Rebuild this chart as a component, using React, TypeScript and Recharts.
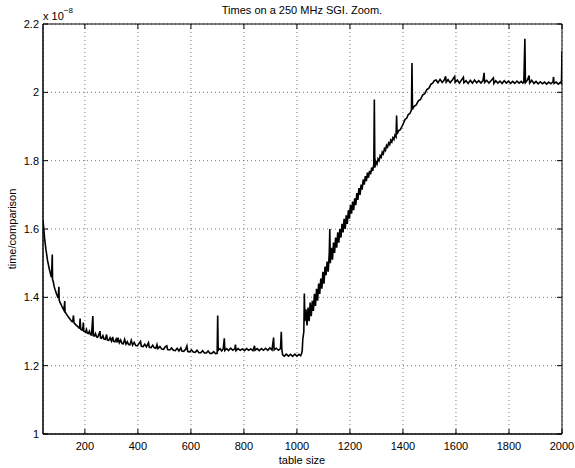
import React from "react";
import {
  LineChart,
  Line,
  XAxis,
  YAxis,
  CartesianGrid,
  ReferenceArea,
} from "recharts";

// table size vs. time per comparison (units of 1e-8 s)
const decay: [number, number][] = [
  [42, 1.625], [44, 1.61], [46, 1.59], [48, 1.572], [50, 1.56], [53, 1.54], [56, 1.525], [59, 1.508],
  [62, 1.497], [65, 1.485], [68, 1.476], [71, 1.466], [74, 1.459], [77, 1.525], [78, 1.452], [81, 1.445],
  [84, 1.432], [87, 1.424], [90, 1.417], [93, 1.41], [96, 1.404], [99, 1.398], [102, 1.431], [103, 1.392],
  [106, 1.386], [109, 1.381], [112, 1.376], [115, 1.371], [118, 1.366], [121, 1.362], [124, 1.389], [125, 1.357],
  [128, 1.354], [131, 1.35], [134, 1.347], [137, 1.343], [140, 1.34], [143, 1.337], [146, 1.334], [149, 1.331],
  [152, 1.329], [155, 1.336], [157, 1.347], [159, 1.325], [162, 1.323], [165, 1.32], [168, 1.318], [171, 1.316],
  [174, 1.314], [177, 1.311], [180, 1.31], [182, 1.338], [184, 1.307], [187, 1.305], [190, 1.304], [193, 1.315],
  [194, 1.326], [196, 1.301], [199, 1.3], [202, 1.298], [206, 1.306], [209, 1.295], [213, 1.294], [217, 1.301],
  [221, 1.291], [225, 1.29], [230, 1.345], [232, 1.288], [236, 1.287], [240, 1.294], [244, 1.284], [248, 1.283],
  [252, 1.29], [257, 1.301], [259, 1.281], [263, 1.28], [268, 1.288], [272, 1.278], [277, 1.277], [282, 1.291],
  [285, 1.275], [290, 1.274], [295, 1.282], [300, 1.272], [305, 1.284], [308, 1.271], [313, 1.27], [318, 1.278],
  [322, 1.268], [325, 1.282], [330, 1.267], [335, 1.275], [340, 1.265], [345, 1.264], [350, 1.277], [355, 1.263],
  [360, 1.27], [365, 1.262], [370, 1.261], [375, 1.274], [380, 1.26], [386, 1.268], [392, 1.259], [398, 1.258],
  [404, 1.265], [410, 1.271], [413, 1.257], [420, 1.256], [426, 1.263], [432, 1.255], [440, 1.267], [443, 1.254],
  [450, 1.253], [456, 1.26], [462, 1.252], [468, 1.251], [472, 1.262], [476, 1.25], [483, 1.256], [490, 1.249],
  [497, 1.248], [503, 1.255], [509, 1.258], [512, 1.247], [520, 1.246], [527, 1.252], [534, 1.245], [541, 1.244],
  [548, 1.251], [555, 1.243], [562, 1.252], [566, 1.243], [573, 1.242], [580, 1.248], [585, 1.258], [588, 1.241],
  [595, 1.24], [602, 1.246], [609, 1.24], [616, 1.239], [623, 1.245], [630, 1.238], [637, 1.238], [644, 1.244],
  [651, 1.237], [658, 1.237], [665, 1.243], [672, 1.236], [679, 1.236], [686, 1.241], [693, 1.235], [699, 1.236],
  [701, 1.347], [703, 1.245],
];

const plateau: [number, number][] = [
  [704, 1.246], [710, 1.25], [716, 1.243], [722, 1.249], [726, 1.28], [728, 1.244], [735, 1.25], [742, 1.244],
  [750, 1.251], [758, 1.245], [766, 1.25], [768, 1.262], [770, 1.244], [778, 1.25], [786, 1.245], [794, 1.249],
  [802, 1.244], [810, 1.25], [818, 1.245], [826, 1.249], [834, 1.244], [840, 1.258], [842, 1.245], [850, 1.25],
  [858, 1.244], [866, 1.25], [874, 1.245], [882, 1.251], [890, 1.245], [898, 1.252], [906, 1.246], [912, 1.282],
  [914, 1.246], [922, 1.251], [930, 1.245], [938, 1.25], [941, 1.299], [943, 1.248], [946, 1.232], [952, 1.228],
  [960, 1.234], [968, 1.228], [976, 1.233], [984, 1.227], [992, 1.234], [1000, 1.228], [1008, 1.233], [1014, 1.229],
  [1018, 1.236],
];

const ramp: [number, number][] = [
  [1020, 1.245], [1022, 1.276], [1026, 1.3], [1028, 1.411], [1030, 1.33], [1034, 1.365], [1038, 1.318], [1042, 1.37],
  [1046, 1.33], [1050, 1.385], [1054, 1.345], [1058, 1.39], [1062, 1.36], [1066, 1.41], [1070, 1.375], [1074, 1.425],
  [1078, 1.39], [1082, 1.44], [1086, 1.41], [1090, 1.455], [1094, 1.425], [1098, 1.475], [1102, 1.44], [1106, 1.49],
  [1110, 1.465], [1114, 1.505], [1118, 1.475], [1122, 1.53], [1124, 1.6], [1126, 1.5], [1130, 1.545], [1134, 1.51],
  [1138, 1.56], [1142, 1.53], [1146, 1.575], [1150, 1.545], [1154, 1.59], [1158, 1.56], [1162, 1.6], [1166, 1.575],
  [1170, 1.615], [1174, 1.59], [1178, 1.63], [1182, 1.6], [1186, 1.64], [1190, 1.615], [1194, 1.655], [1198, 1.63],
  [1202, 1.67], [1206, 1.645], [1210, 1.68], [1214, 1.655], [1218, 1.69], [1222, 1.67], [1226, 1.705], [1230, 1.685],
  [1234, 1.72], [1238, 1.7], [1242, 1.73], [1246, 1.715], [1250, 1.745], [1254, 1.73], [1258, 1.755], [1262, 1.74],
  [1266, 1.765], [1270, 1.75], [1274, 1.77], [1278, 1.76], [1282, 1.78], [1286, 1.77], [1290, 1.79], [1292, 1.979],
  [1294, 1.78], [1298, 1.797], [1302, 1.79], [1306, 1.805], [1310, 1.8], [1314, 1.815], [1318, 1.81], [1322, 1.825],
  [1326, 1.82], [1330, 1.835], [1334, 1.83], [1338, 1.845], [1342, 1.84], [1346, 1.852], [1350, 1.847], [1354, 1.86],
  [1358, 1.855], [1362, 1.867], [1366, 1.862], [1370, 1.875], [1374, 1.87], [1376, 1.932], [1378, 1.878], [1384, 1.888],
  [1390, 1.891], [1396, 1.9], [1402, 1.91], [1408, 1.921], [1414, 1.924], [1420, 1.935], [1426, 1.938], [1432, 1.948],
  [1434, 2.086], [1436, 1.95], [1442, 1.959], [1450, 1.963], [1458, 1.975], [1466, 1.979], [1474, 1.992], [1482, 1.996],
  [1490, 2.008], [1498, 2.012], [1506, 2.024], [1512, 2.027], [1518, 2.034],
];

const flat: [number, number][] = [
  [1525, 2.036], [1532, 2.028], [1540, 2.038], [1548, 2.029], [1555, 2.035], [1561, 2.047], [1563, 2.03], [1570, 2.037],
  [1578, 2.028], [1586, 2.036], [1595, 2.046], [1597, 2.029], [1605, 2.036], [1613, 2.027], [1620, 2.035], [1628, 2.044],
  [1630, 2.028], [1638, 2.034], [1646, 2.026], [1654, 2.035], [1662, 2.027], [1670, 2.036], [1678, 2.028], [1686, 2.034],
  [1694, 2.027], [1702, 2.035], [1706, 2.057], [1708, 2.029], [1716, 2.035], [1724, 2.027], [1732, 2.034], [1741, 2.042],
  [1743, 2.026], [1750, 2.034], [1758, 2.027], [1766, 2.033], [1774, 2.026], [1782, 2.034], [1790, 2.027], [1798, 2.033],
  [1806, 2.026], [1814, 2.032], [1822, 2.026], [1830, 2.033], [1838, 2.027], [1846, 2.032], [1852, 2.027], [1856, 2.03],
  [1860, 2.157], [1862, 2.028], [1868, 2.034], [1876, 2.049], [1878, 2.027], [1886, 2.035], [1894, 2.026], [1902, 2.032],
  [1910, 2.025], [1918, 2.031], [1926, 2.025], [1934, 2.03], [1942, 2.024], [1950, 2.03], [1958, 2.025], [1966, 2.031],
  [1968, 2.045], [1970, 2.026], [1978, 2.03], [1986, 2.024], [1994, 2.029], [1998, 2.026], [2000, 2.12],
];

const xTicks = [200, 400, 600, 800, 1000, 1200, 1400, 1600, 1800, 2000];
const yTicks = [1, 1.2, 1.4, 1.6, 1.8, 2, 2.2];
const xDomain: [number, number] = [42, 2000];
const yDomain: [number, number] = [1, 2.2];

const data = [...decay, ...plateau, ...ramp, ...flat].map(([size, time]) => ({ size, time }));

const W = 575;
const H = 468;
const M = { top: 24, right: 13, left: 0, bottom: 13 };
const Y_AXIS_W = 43;
const X_AXIS_H = 21;
const PLOT_LEFT = M.left + Y_AXIS_W;
const PLOT_RIGHT = W - M.right;
const PLOT_TOP = M.top;
const PLOT_BOTTOM = H - M.bottom - X_AXIS_H;
const TICK_LEN = 5;
const FONT = "'Liberation Sans', Arial, Helvetica, sans-serif";

const XTick = (props: any) => {
  const { x, y, payload } = props;
  return (
    <g>
      <line x1={x} x2={x} y1={PLOT_BOTTOM} y2={PLOT_BOTTOM - TICK_LEN} stroke="#000" />
      <line x1={x} x2={x} y1={PLOT_TOP} y2={PLOT_TOP + TICK_LEN} stroke="#000" />
      <text x={x} y={y} dy="0.71em" textAnchor="middle" fontSize={11} fontFamily={FONT} fill="#000">
        {payload.value}
      </text>
    </g>
  );
};

const YTick = (props: any) => {
  const { x, y, payload } = props;
  return (
    <g>
      <line x1={PLOT_LEFT} x2={PLOT_LEFT + TICK_LEN} y1={y} y2={y} stroke="#000" />
      <line x1={PLOT_RIGHT - TICK_LEN} x2={PLOT_RIGHT} y1={y} y2={y} stroke="#000" />
      <text x={x} y={y} dy="0.355em" textAnchor="end" fontSize={11} fontFamily={FONT} fill="#000">
        {payload.value}
      </text>
    </g>
  );
};

const textStyle: React.CSSProperties = {
  position: "absolute",
  fontFamily: FONT,
  fontSize: 11,
  color: "#000",
  whiteSpace: "nowrap",
  lineHeight: 1,
};

export default function App() {
  return (
    <div style={{ position: "absolute", left: 0, top: 0, width: W, height: H, background: "#fff" }}>
      <LineChart width={W} height={H} data={data} margin={M}>
        <CartesianGrid stroke="#777" strokeDasharray="1 3" />
        <XAxis
          dataKey="size"
          type="number"
          domain={xDomain}
          ticks={xTicks}
          allowDataOverflow
          height={X_AXIS_H}
          tickSize={0}
          tickMargin={8}
          tickLine={false}
          axisLine={{ stroke: "#000" }}
          tick={XTick}
          interval={0}
        />
        <YAxis
          type="number"
          domain={yDomain}
          ticks={yTicks}
          allowDataOverflow
          width={Y_AXIS_W}
          tickSize={0}
          tickMargin={4}
          tickLine={false}
          axisLine={{ stroke: "#000" }}
          tick={YTick}
          interval={0}
        />
        <ReferenceArea
          x1={xDomain[0]}
          x2={xDomain[1]}
          y1={yDomain[0]}
          y2={yDomain[1]}
          stroke="#000"
          strokeWidth={1}
          fill="none"
          fillOpacity={0}
          ifOverflow="visible"
        />
        <Line
          type="linear"
          dataKey="time"
          stroke="#000"
          strokeWidth={1.6}
          dot={false}
          activeDot={false}
          isAnimationActive={false}
        />
      </LineChart>
      <div style={{ ...textStyle, left: 302, top: 10, transform: "translate(-50%, -50%)" }}>
        Times on a 250 MHz SGI. Zoom.
      </div>
      <div style={{ ...textStyle, left: 43, top: 11 }}>
        x 10<span style={{ fontSize: 8, position: "relative", top: -7 }}>−8</span>
      </div>
      <div style={{ ...textStyle, left: 302, top: 460, transform: "translate(-50%, -50%)" }}>table size</div>
      <div
        style={{
          ...textStyle,
          left: 12,
          top: 229,
          transform: "translate(-50%, -50%) rotate(-90deg)",
        }}
      >
        time/comparison
      </div>
    </div>
  );
}
